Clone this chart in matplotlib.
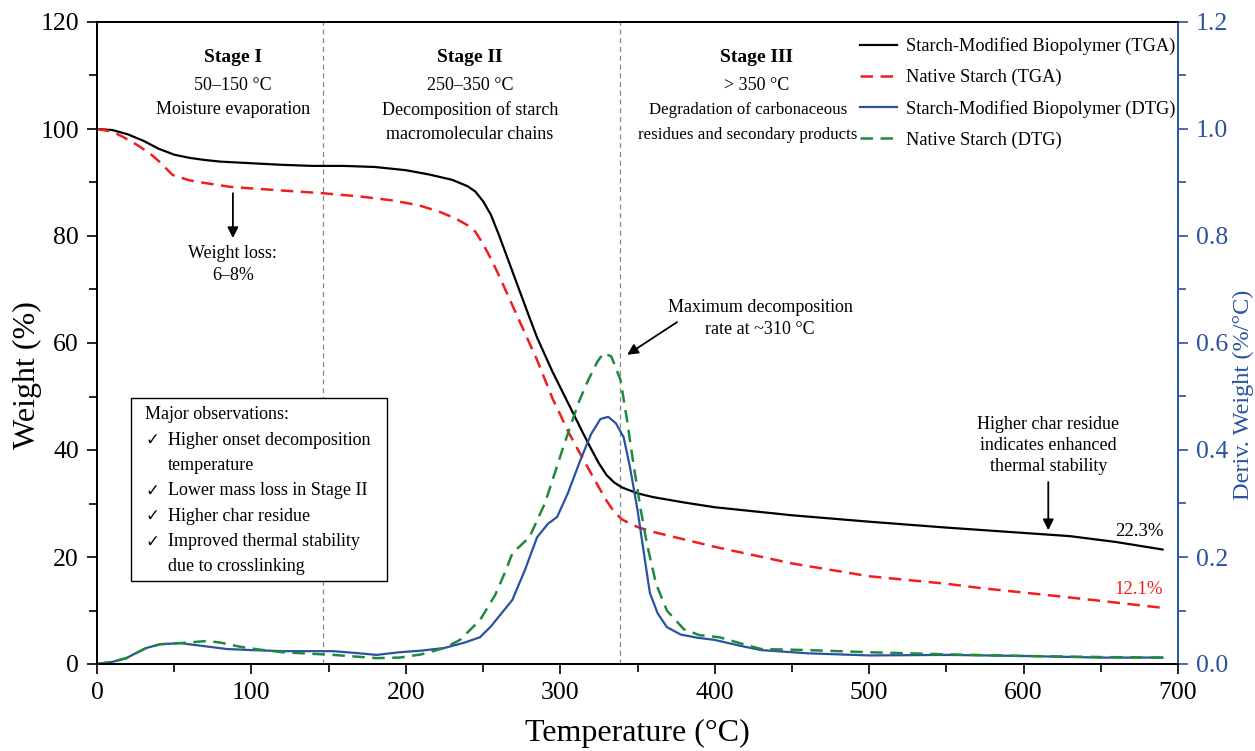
import matplotlib
matplotlib.use("Agg")
import matplotlib.pyplot as plt
from matplotlib.patches import Rectangle
from matplotlib.ticker import MultipleLocator

plt.rcParams['font.family'] = ['Liberation Serif', 'DejaVu Sans']
plt.rcParams['mathtext.fontset'] = 'stix'

# ---------------- data ----------------
tga_mod_T = [0, 10, 20, 30, 40, 50, 60, 70, 80, 100, 120, 140, 160, 180, 200, 215, 230,
             240, 245, 250, 255, 260, 265, 270, 275, 280, 285, 290, 295, 300, 305, 310,
             315, 320, 325, 330, 335, 340, 350, 360, 380, 400, 450, 500, 550, 600, 630,
             660, 690]
tga_mod_W = [100, 99.8, 99.0, 97.8, 96.3, 95.2, 94.6, 94.2, 93.9, 93.6, 93.3, 93.1, 93.1,
             92.9, 92.3, 91.5, 90.5, 89.3, 88.3, 86.5, 84.0, 80.4, 76.5, 72.6, 68.7, 64.8,
             61.0, 57.8, 54.6, 51.7, 48.8, 45.9, 43.0, 40.2, 37.5, 35.3, 33.9, 33.0, 31.9,
             31.2, 30.2, 29.3, 27.8, 26.6, 25.5, 24.5, 23.9, 22.8, 21.4]

tga_nat_T = [0, 10, 17, 25, 34, 40, 49, 60, 70, 86, 100, 120, 146, 170, 190, 200, 210, 222,
             232, 240, 245, 250, 255, 260, 265, 270, 275, 280, 285, 290, 295, 300, 305, 310,
             315, 320, 325, 330, 335, 340, 350, 360, 370, 380, 390, 400, 450, 500, 550, 572,
             615, 650, 690]
tga_nat_W = [100, 99.5, 98.5, 97.2, 95.5, 94.0, 91.4, 90.4, 89.9, 89.2, 88.9, 88.5, 88.0,
             87.4, 86.7, 86.2, 85.6, 84.5, 83.3, 82.0, 80.8, 78.5, 75.8, 72.8, 69.6, 66.4,
             63.2, 60.0, 56.8, 53.2, 49.6, 46.6, 43.5, 40.8, 38.2, 35.6, 33.0, 30.5, 28.4,
             27.0, 25.6, 24.7, 24.0, 23.3, 22.6, 21.9, 18.8, 16.4, 15.0, 14.2, 12.9, 11.8,
             10.5]

dtg_mod_T = [0, 10, 19, 25, 32, 41, 54, 65, 84, 100, 120, 153, 170, 181, 196, 210, 225, 238,
             248, 255, 262, 269, 277, 285, 292, 298, 305, 313, 320, 326, 331, 336, 341, 345,
             350, 354, 358, 363, 369, 378, 389, 400, 415, 430, 460, 500, 550, 600, 650, 690]
dtg_mod_D = [0, 0.004, 0.011, 0.020, 0.030, 0.037, 0.039, 0.035, 0.028, 0.026, 0.024, 0.024,
             0.020, 0.017, 0.022, 0.025, 0.030, 0.040, 0.050, 0.070, 0.095, 0.120, 0.175,
             0.237, 0.262, 0.275, 0.320, 0.381, 0.430, 0.458, 0.462, 0.450, 0.424, 0.370,
             0.288, 0.210, 0.133, 0.095, 0.069, 0.055, 0.049, 0.045, 0.035, 0.026, 0.020,
             0.016, 0.017, 0.015, 0.012, 0.012]

dtg_nat_T = [0, 10, 19, 25, 32, 41, 54, 71, 80, 93, 105, 120, 153, 181, 196, 210, 225, 235,
             248, 258, 264, 269, 280, 290, 302, 312, 318, 324, 328, 333, 339, 343, 347, 352,
             356, 362, 369, 380, 390, 403, 415, 430, 460, 500, 550, 600, 650, 690]
dtg_nat_D = [0, 0.004, 0.011, 0.020, 0.030, 0.037, 0.039, 0.043, 0.040, 0.032, 0.027, 0.022,
             0.017, 0.011, 0.012, 0.018, 0.030, 0.045, 0.082, 0.130, 0.170, 0.207, 0.237,
             0.300, 0.406, 0.490, 0.530, 0.565, 0.581, 0.575, 0.531, 0.460, 0.381, 0.290,
             0.226, 0.150, 0.100, 0.065, 0.054, 0.050, 0.040, 0.028, 0.026, 0.022, 0.018,
             0.015, 0.013, 0.012]

labels = ["Starch-Modified Biopolymer (TGA)", "Native Starch (TGA)",
          "Starch-Modified Biopolymer (DTG)", "Native Starch (DTG)"]
stage_bounds = [146.5, 338.7]
residue_mod = "22.3%"
residue_nat = "12.1%"

BLUE = '#2a52a0'
RED = '#f01e1e'
GREEN = '#1f8a3e'

# ---------------- figure ----------------
fig = plt.figure(figsize=(12.55, 7.51), dpi=100)
ax = fig.add_axes([97/1255, 87/751, 1081/1255, 642/751])
ax2 = ax.twinx()

l1, = ax.plot(tga_mod_T, tga_mod_W, color='black', lw=1.6, label=labels[0])
l2, = ax.plot(tga_nat_T, tga_nat_W, color=RED, lw=1.8, ls=(0, (5, 3)), label=labels[1])
l3, = ax2.plot(dtg_mod_T, dtg_mod_D, color=BLUE, lw=1.6, label=labels[2])
l4, = ax2.plot(dtg_nat_T, dtg_nat_D, color=GREEN, lw=1.8, ls=(0, (5, 3)), label=labels[3])

for xb in stage_bounds:
    ax.axvline(xb, color='#888888', lw=0.9, ls=(0, (4, 3)), zorder=0)

ax.set_xlim(0, 700)
ax.set_ylim(0, 120)
ax2.set_ylim(0, 1.2)

ax.xaxis.set_major_locator(MultipleLocator(100))
ax.xaxis.set_minor_locator(MultipleLocator(50))
ax.yaxis.set_major_locator(MultipleLocator(20))
ax.yaxis.set_minor_locator(MultipleLocator(10))
ax2.yaxis.set_major_locator(MultipleLocator(0.2))
ax2.yaxis.set_minor_locator(MultipleLocator(0.1))
ax2.yaxis.set_major_formatter(matplotlib.ticker.FormatStrFormatter('%.1f'))

ax.tick_params(axis='both', which='major', direction='out', length=7, width=1.2,
               labelsize=18.5, pad=6)
ax.tick_params(axis='both', which='minor', direction='out', length=6, width=1.2)
ax.tick_params(axis='y', right=False)
ax2.tick_params(axis='y', which='major', direction='out', length=7, width=1.2,
                labelsize=18.5, colors=BLUE, pad=6)
ax2.tick_params(axis='y', which='minor', direction='out', length=6, width=1.2, colors=BLUE)

for sp in ['left', 'bottom', 'top']:
    ax.spines[sp].set_linewidth(1.4)
    ax2.spines[sp].set_linewidth(1.4)
ax2.spines['right'].set_color(BLUE)
ax2.spines['right'].set_linewidth(1.4)
ax.spines['right'].set_visible(False)

ax.set_xlabel("Temperature (°C)", fontsize=23, labelpad=11)
ax.set_ylabel("Weight (%)", fontsize=23)
ax.yaxis.set_label_coords(-0.051, 0.45)
ax2.set_ylabel("Deriv. Weight (%/°C)", fontsize=17.5, color=BLUE)
ax2.yaxis.set_label_coords(1.0505, 0.42)

# Legend
leg = ax.legend(handles=[l1, l2, l3, l4], loc='upper left', bbox_to_anchor=(0.7058, 0.9763),
                frameon=True, fancybox=False, facecolor='white', edgecolor='none',
                framealpha=1.0, fontsize=13.2, borderpad=0.0, borderaxespad=0,
                handlelength=2.0, handletextpad=0.53, labelspacing=0.75)
leg.set_zorder(10)

# Stage texts
def stage(x, lines, body_x=None, body_size=13):
    ys = [113.3, 108.2, 103.6, 98.9]
    for i, t in enumerate(lines):
        xx = x if (i < 2 or body_x is None) else body_x
        ax.text(xx, ys[i], t, ha='center', va='center',
                fontsize=14 if i == 0 else (13 if i == 1 else body_size),
                fontweight='bold' if i == 0 else 'normal', zorder=3)

stage(88, ["Stage I", "50–150 °C", "Moisture evaporation"])
stage(241.6, ["Stage II", "250–350 °C", "Decomposition of starch", "macromolecular chains"])
stage(427.0, ["Stage III", "> 350 °C", "Degradation of carbonaceous",
              "residues and secondary products"], body_x=421.5, body_size=12.2)

# Annotations
arrow = dict(arrowstyle='-|>', color='black', lw=1.3, mutation_scale=16, shrinkA=0, shrinkB=0)
ax.annotate("", xy=(88, 79.6), xytext=(88, 88.0), arrowprops=arrow)
ax.text(88, 74.7, "Weight loss:\n6–8%", ha='center', va='center', fontsize=13,
        linespacing=1.35)

ax.annotate("", xy=(343.3, 57.8), xytext=(375.6, 63.9), arrowprops=arrow)
ax.text(429.4, 64.6, "Maximum decomposition\nrate at ~310 °C", ha='center', va='center',
        fontsize=13, linespacing=1.35)

ax.annotate("", xy=(616, 25.0), xytext=(616, 34.0), arrowprops=arrow)
ax.text(616, 40.9, "Higher char residue\nindicates enhanced\nthermal stability",
        ha='center', va='center', fontsize=13, linespacing=1.3)

ax.text(690.4, 24.7, residue_mod, ha='right', va='center', fontsize=13.5, color='black')
ax.text(690.4, 14.0, residue_nat, ha='right', va='center', fontsize=13.5, color=RED)

# Observations box
ax.add_patch(Rectangle((0.0315, 0.1293), 0.2368, 0.285, transform=ax.transAxes,
                       fill=True, facecolor='white', edgecolor='black', lw=1.0, zorder=5))
ys = [0.3879, 0.3484, 0.3089, 0.2695, 0.2300, 0.1905, 0.1511]
ax.text(0.0444, ys[0], "Major observations:", transform=ax.transAxes, fontsize=13,
        va='center', ha='left', zorder=6)
items = [("✓", "Higher onset decomposition"), ("", "temperature"),
         ("✓", "Lower mass loss in Stage II"), ("✓", "Higher char residue"),
         ("✓", "Improved thermal stability"), ("", "due to crosslinking")]
for (ck, t), y in zip(items, ys[1:]):
    if ck:
        ax.text(0.0453, y, ck, transform=ax.transAxes, fontsize=12, va='center',
                ha='left', zorder=6, family=['DejaVu Sans'])
    ax.text(0.0657, y, t, transform=ax.transAxes, fontsize=13, va='center', ha='left',
            zorder=6)

fig.savefig("out.png", dpi=100)
